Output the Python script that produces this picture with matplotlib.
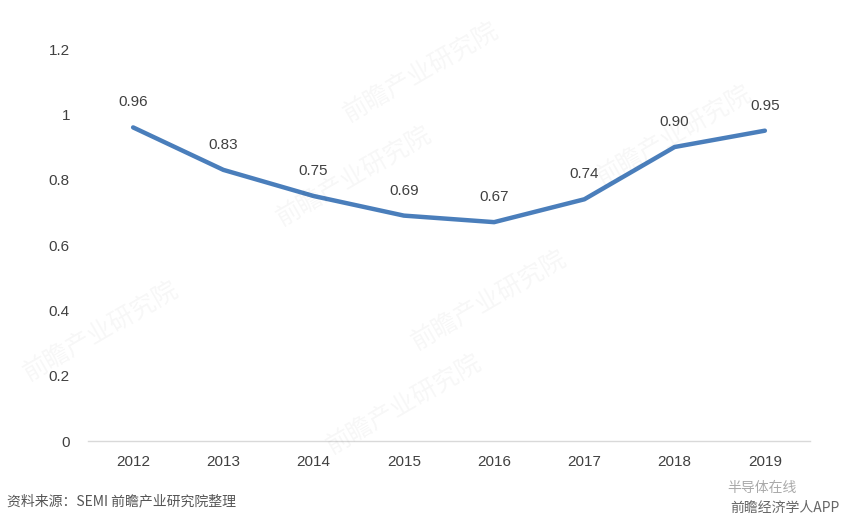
import matplotlib.pyplot as plt

plt.rcParams['font.family'] = ['Liberation Sans', 'Noto Sans CJK SC', 'DejaVu Sans']

years = ['2012', '2013', '2014', '2015', '2016', '2017', '2018', '2019']
values = [0.96, 0.83, 0.75, 0.69, 0.67, 0.74, 0.90, 0.95]
yticks = [0, 0.2, 0.4, 0.6, 0.8, 1.0, 1.2]
ytick_labels = ['0', '0.2', '0.4', '0.6', '0.8', '1', '1.2']

fig = plt.figure(figsize=(8.42, 5.18), dpi=100)
ax = fig.add_axes([0.1045, 0.1486, 0.8575, 0.7568])

x = range(len(years))
ax.plot(x, values, color='#4a7ebb', linewidth=3.2, solid_capstyle='round',
        solid_joinstyle='round', zorder=3)

for xi, v in zip(x, values):
    ax.annotate(f'{v:.2f}', (xi, v), xytext=(0, 18), textcoords='offset points',
                ha='center', va='center', fontsize=11, color='#404040')

ax.set_xlim(-0.5, len(years) - 0.5)
ax.set_ylim(0, 1.2)
ax.set_xticks(list(x))
ax.set_xticklabels(years)
ax.set_yticks(yticks)
ax.set_yticklabels(ytick_labels)
ax.tick_params(axis='both', length=0, labelsize=11, labelcolor='#404040')
ax.tick_params(axis='y', pad=13)
ax.tick_params(axis='x', pad=10)
for side in ['top', 'right', 'left']:
    ax.spines[side].set_visible(False)
ax.spines['bottom'].set_color('#d9d9d9')
ax.spines['bottom'].set_linewidth(1)

# faint diagonal watermarks
wm = dict(fontsize=18, color='#000000', alpha=0.035, rotation=30,
          ha='center', va='center', family=['Noto Sans CJK SC'])
for (wx, wy) in [(0.50, 0.86), (0.80, 0.74), (0.42, 0.66), (0.58, 0.42),
                 (0.12, 0.36), (0.48, 0.22)]:
    fig.text(wx, wy, '前瞻产业研究院', **wm)

fig.text(0.008, 0.025, '资料来源：SEMI 前瞻产业研究院整理', fontsize=10,
         color='#555555', family=['Noto Sans CJK SC', 'DejaVu Sans'])
fig.text(0.997, 0.012, '前瞻经济学人APP', fontsize=10, color='#666666', ha='right',
         family=['Noto Sans CJK SC', 'DejaVu Sans'])
fig.text(0.905, 0.05, '半导体在线', fontsize=10, color='#aaaaaa',
         ha='center', family=['Noto Sans CJK SC'])

fig.savefig('out.png', dpi=100, facecolor='white')
